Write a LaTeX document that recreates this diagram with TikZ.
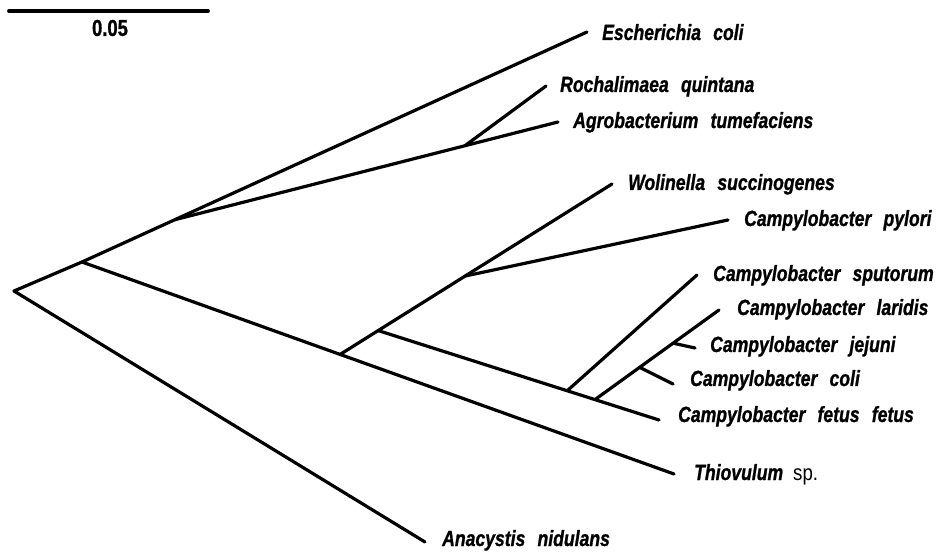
\documentclass[tikz,border=0pt]{standalone}
\usepackage{fontspec}
\setmainfont{Liberation Sans}
\newfontfamily\taxfont[FakeStretch=0.8,WordSpace=2.5,FakeBold=1]{Liberation Sans}
\newfontfamily\spfont[FakeStretch=0.85,WordSpace=2.3]{Liberation Sans}
\usetikzlibrary{calc}
\begin{document}
\begin{tikzpicture}[x=1pt,y=-1pt,
  br/.style={line width=3.2pt,line cap=round,line join=round},
  taxon/.style={anchor=base west,inner sep=0pt,font=\taxfont\fontsize{22}{24}\selectfont\bfseries\itshape},
  scalelbl/.style={inner sep=0pt,font=\taxfont\fontsize{23}{24}\selectfont\bfseries}]
\useasboundingbox (0,0) rectangle (943,553);
% tips
\coordinate (R) at (14,291);
\coordinate (A) at (82,262);
\coordinate (tEco) at (587,32);
\coordinate (tRoc) at (546,86);
\coordinate (tAgr) at (558,122);
\coordinate (tWol) at (612,184);
\coordinate (tPyl) at (728,220);
\coordinate (tSpu) at (697,275);
\coordinate (tLar) at (719,310);
\coordinate (tJej) at (695,348);
\coordinate (tCol) at (673,384);
\coordinate (tFet) at (659,420);
\coordinate (tThi) at (674,474);
\coordinate (tAna) at (425,542);
% internal nodes
\coordinate (B) at ($(A)!0.184!(tEco)$);
\coordinate (C) at ($(B)!0.757!(tAgr)$);
\coordinate (D) at ($(A)!0.436!(tThi)$);
\coordinate (E) at ($(D)!0.14!(tWol)$);
\coordinate (W) at ($(D)!0.46!(tWol)$);
\coordinate (F) at ($(E)!0.673!(tFet)$);
\coordinate (G) at ($(E)!0.772!(tFet)$);
\coordinate (H) at ($(G)!0.36!(tLar)$);
\coordinate (I) at ($(G)!0.63!(tLar)$);
% branches
\draw[br] (tAna) -- (R) -- (A) -- (tEco);
\draw[br] (B) -- (tAgr);
\draw[br] (C) -- (tRoc);
\draw[br] (A) -- (tThi);
\draw[br] (D) -- (tWol);
\draw[br] (W) -- (tPyl);
\draw[br] (E) -- (tFet);
\draw[br] (F) -- (tSpu);
\draw[br] (G) -- (tLar);
\draw[br] (H) -- (tCol);
\draw[br] (I) -- (tJej);
% labels
\node[taxon] (lEco) at (602,40) {Escherichia coli};
\node[taxon] (lRoc) at (560,92) {Rochalimaea quintana};
\node[taxon] (lAgr) at (573,128) {Agrobacterium tumefaciens};
\node[taxon] (lWol) at (628,190) {Wolinella succinogenes};
\node[taxon] (lPyl) at (744,226) {Campylobacter pylori};
\node[taxon] (lSpu) at (713,281) {Campylobacter sputorum};
\node[taxon] (lLar) at (737,315) {Campylobacter laridis};
\node[taxon] (lJej) at (710,352) {Campylobacter jejuni};
\node[taxon] (lCol) at (690,386) {Campylobacter coli};
\node[taxon] (lFet) at (678,422) {Campylobacter fetus fetus};
\node[taxon] (lThi) at (694,480) {Thiovulum\hspace{10pt}{\spfont\upshape\mdseries sp.}};
\node[taxon] (lAna) at (442,546) {Anacystis nidulans};
% scale bar
\coordinate (s1) at (9,11);
\coordinate (s2) at (208,11);
\draw[line width=3.8pt,line cap=round] (s1) -- (s2);
\node[scalelbl] (sl) at (110,28) {0.05};
\end{tikzpicture}
\end{document}
